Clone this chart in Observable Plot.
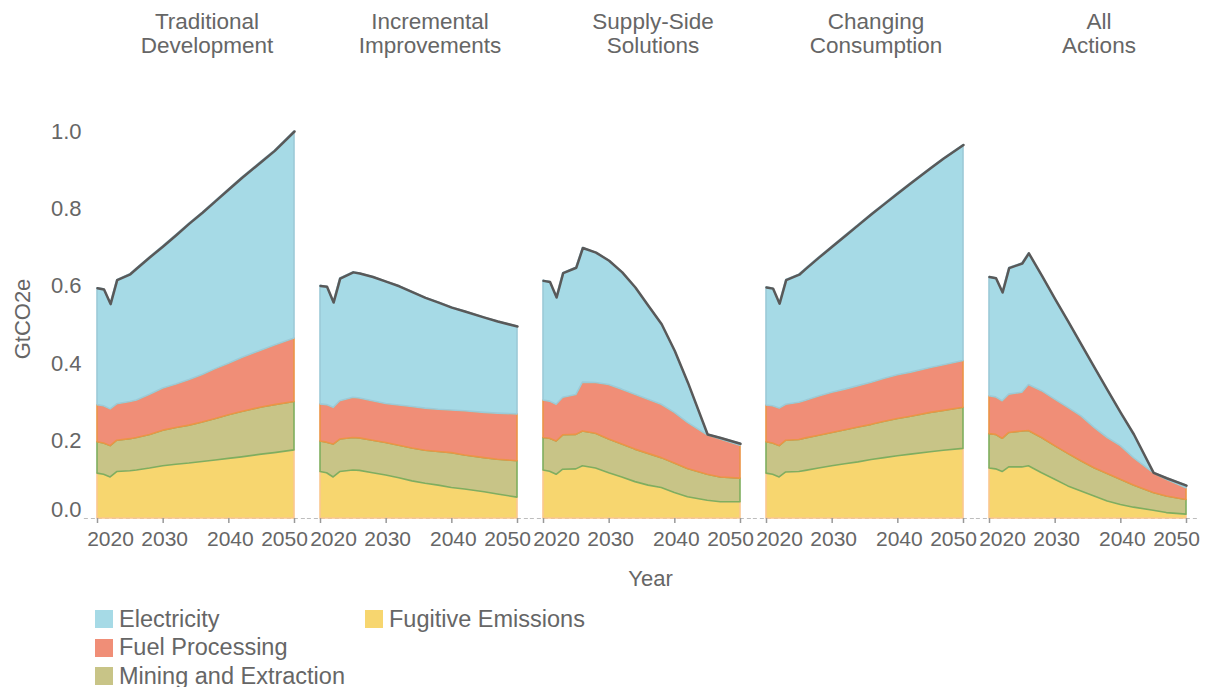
<!DOCTYPE html>
<html>
<head>
<meta charset="utf-8">
<script src="https://cdn.jsdelivr.net/npm/d3@7"></script>
<script src="https://cdn.jsdelivr.net/npm/@observablehq/plot@0.6"></script>
<style>
  body { margin: 0; background: #fff; font-family: "Liberation Sans", Arial, sans-serif; }
  #legend {
    display: grid;
    grid-template-rows: repeat(3, 28.5px);
    grid-auto-flow: column;
    grid-template-columns: 270px auto;
    padding: 5px 0 0 95px;
    color: #666;
    font-size: 23.5px;
  }
  .item { display: flex; align-items: center; white-space: nowrap; }
  .sw { width: 18px; height: 18px; margin-right: 6px; flex: none; }
</style>
</head>
<body>
<div id="chart"></div>
<div id="legend"></div>
<script>
// ---- Data ----
const years = [2020, 2021, 2022, 2023, 2025, 2026, 2028, 2030, 2032, 2034, 2036, 2038, 2040, 2042, 2045, 2047, 2050];
const scenarios = ["Traditional Development", "Incremental Improvements", "Supply-Side Solutions", "Changing Consumption", "All Actions"];
const categories = ["Electricity", "Fuel Processing", "Mining and Extraction", "Fugitive Emissions"];
const stackOrder = ["Fugitive Emissions", "Mining and Extraction", "Fuel Processing", "Electricity"];
const fillColors = ["#a6dae6", "#f08e77", "#c8c487", "#f7d66f"];
const strokeColors = ["#9ccad8", "#ec9446", "#7fae5e", "#fbc78f"];
const xTicks = [2020, 2030, 2040, 2050];
const yTicks = [0, 0.2, 0.4, 0.6, 0.8, 1.0];

// values in GtCO2e, one row per scenario (order of `scenarios`), one value per year
const electricity = [
  [.302,.302,.272,.321,.330,.341,.355,.367,.386,.404,.419,.434,.450,.465,.488,.503,.535],
  [.306,.306,.272,.317,.324,.323,.321,.316,.308,.297,.286,.277,.266,.258,.246,.238,.227],
  [.309,.309,.277,.322,.329,.348,.337,.321,.303,.277,.242,.208,.160,.104,.002,.004,.005],
  [.305,.304,.271,.322,.331,.341,.359,.377,.397,.416,.435,.452,.470,.489,.516,.534,.558],
  [.308,.308,.281,.327,.334,.340,.298,.260,.223,.185,.156,.123,.086,.061,.001,.004,.007]
];
const fuelProcessing = [
  [.096,.096,.095,.094,.096,.097,.104,.109,.112,.118,.123,.129,.133,.140,.147,.154,.164],
  [.096,.097,.095,.099,.104,.103,.102,.101,.104,.107,.109,.109,.110,.114,.117,.119,.121],
  [.097,.096,.095,.097,.103,.126,.131,.141,.142,.142,.140,.138,.131,.119,.102,.098,.085],
  [.095,.096,.097,.093,.096,.097,.101,.104,.105,.107,.109,.111,.113,.114,.116,.118,.121],
  [.098,.097,.097,.099,.100,.119,.121,.120,.119,.116,.104,.093,.087,.071,.051,.043,.030]
];
const miningExtraction = [
  [.081,.081,.081,.081,.083,.084,.087,.092,.095,.098,.102,.107,.113,.117,.122,.124,.125],
  [.079,.079,.085,.084,.084,.084,.084,.084,.084,.085,.085,.087,.090,.088,.088,.090,.094],
  [.084,.085,.086,.089,.089,.090,.090,.087,.085,.084,.082,.077,.076,.073,.067,.064,.061],
  [.081,.081,.081,.082,.083,.084,.085,.086,.088,.090,.091,.094,.096,.098,.102,.103,.106],
  [.089,.089,.086,.089,.093,.091,.091,.087,.084,.078,.073,.071,.065,.057,.046,.043,.038]
];
const fugitiveEmissions = [
  [.116,.113,.106,.120,.122,.124,.129,.135,.139,.142,.146,.150,.154,.158,.165,.169,.176],
  [.120,.117,.106,.120,.124,.123,.117,.111,.104,.096,.090,.085,.079,.075,.068,.062,.054],
  [.124,.121,.113,.126,.127,.135,.129,.117,.106,.094,.085,.079,.066,.055,.046,.042,.042],
  [.116,.113,.106,.119,.120,.123,.129,.135,.140,.145,.151,.156,.161,.165,.171,.175,.180],
  [.129,.127,.120,.132,.132,.135,.117,.100,.083,.070,.057,.044,.035,.028,.020,.014,.010]
];

// ---- Build tables ----
const seriesByCategory = {
  "Electricity": electricity,
  "Fuel Processing": fuelProcessing,
  "Mining and Extraction": miningExtraction,
  "Fugitive Emissions": fugitiveEmissions
};
const fillOf = Object.fromEntries(categories.map((c, i) => [c, fillColors[i]]));
const strokeOf = Object.fromEntries(categories.map((c, i) => [c, strokeColors[i]]));

const rows = [];
const totals = [];
scenarios.forEach((s, si) => {
  years.forEach((yr, yi) => {
    let sum = 0;
    stackOrder.forEach(c => {
      const v = seriesByCategory[c][si][yi];
      sum += v;
      rows.push({scenario: s, year: yr, category: c, value: v});
    });
    totals.push({scenario: s, year: yr, total: sum});
  });
});

const textColor = "#666";

const chart = Plot.plot({
  width: 1211,
  height: 600,
  marginTop: 131,
  marginBottom: 82,
  marginLeft: 95,
  marginRight: 22.5,
  style: {fontFamily: "'Liberation Sans', Arial, sans-serif", fontSize: "21px", color: textColor, background: "#fff"},
  fx: {domain: scenarios, paddingInner: 0.117, paddingOuter: 0, label: null},
  x: {domain: [2020, 2050], label: null},
  y: {domain: [0, 1], label: null},
  color: {type: "identity"},
  marks: [
    Plot.ruleY([0], {x1: 2018, x2: 2052, stroke: "#bdbdbd", strokeDasharray: "4,3", strokeWidth: 1.2}),
    Plot.areaY(rows, Plot.stackY({
      x: "year", y: "value", z: "category", fx: "scenario", order: stackOrder,
      fill: d => fillOf[d.category], stroke: d => strokeOf[d.category], strokeWidth: 1.6
    })),
    Plot.lineY(totals, {x: "year", y: "total", fx: "scenario", stroke: "#595959", strokeWidth: 2.5, strokeLinejoin: "round"}),
    // x ticks
    Plot.axisX(xTicks, {tickSize: 5, tickFormat: () => "", stroke: "#999", strokeWidth: 1.5, label: null}),
    // x tick labels (first/last nudged inward as in the original)
    Plot.axisX([xTicks[0]], {tickSize: 0, tickPadding: 13, dx: 13, tickFormat: "d", fontSize: 21, label: null}),
    Plot.axisX(xTicks.slice(1, -1), {tickSize: 0, tickPadding: 13, dx: 1.5, tickFormat: "d", fontSize: 21, label: null}),
    Plot.axisX([xTicks[xTicks.length - 1]], {tickSize: 0, tickPadding: 13, dx: -10, tickFormat: "d", fontSize: 21, label: null}),
    // y tick labels
    Plot.axisY([yTicks[0]], {tickSize: 0, tickPadding: 16, dy: -9, tickFormat: ".1f", fontSize: 22, label: null}),
    Plot.axisY(yTicks.slice(1), {tickSize: 0, tickPadding: 16, tickFormat: ".1f", fontSize: 22, label: null}),
    // facet titles
    Plot.axisFx({anchor: "top", tickSize: 0, tickPadding: 79, dx: 11, fontSize: 22.5, lineHeight: 1.05, label: null,
      tickFormat: d => d.replace(" ", "\n")}),
    // axis titles
    Plot.text(["Year"], {facet: "super", frameAnchor: "bottom", text: d => d, dx: 8.5, dy: 60, fontSize: 22, fill: "currentColor", textAnchor: "middle", lineAnchor: "middle"}),
    Plot.text(["GtCO2e"], {facet: "super", frameAnchor: "left", text: d => d, rotate: -90, dx: -75, dy: -6, fontSize: 22, fill: "currentColor", textAnchor: "middle", lineAnchor: "middle"})
  ]
});
document.getElementById("chart").appendChild(chart);

// ---- Legend ----
const legend = document.getElementById("legend");
categories.forEach((c, i) => {
  const item = document.createElement("div");
  item.className = "item";
  const sw = document.createElement("span");
  sw.className = "sw";
  sw.style.background = fillColors[i];
  const label = document.createElement("span");
  label.textContent = c;
  item.appendChild(sw);
  item.appendChild(label);
  legend.appendChild(item);
});
</script>
</body>
</html>
